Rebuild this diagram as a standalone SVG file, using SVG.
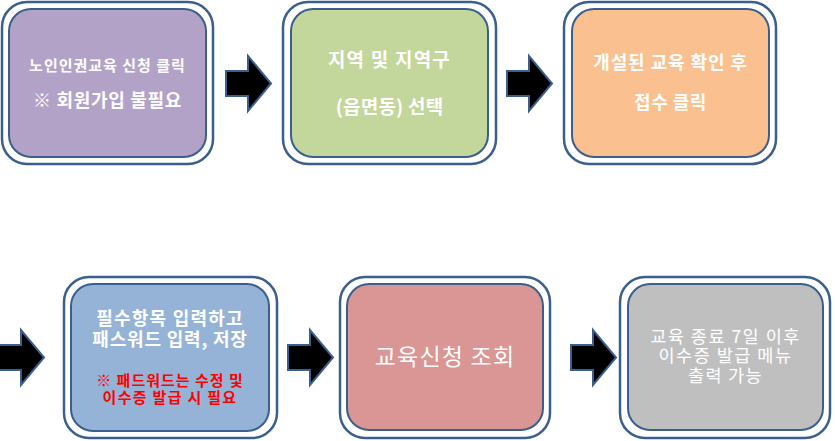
<svg xmlns="http://www.w3.org/2000/svg" xmlns:xlink="http://www.w3.org/1999/xlink" width="835" height="441" viewBox="0 0 835 441">
<style>
.outer{fill:#fff;stroke:#3A5F8C;stroke-width:2.5}
.inner{stroke:#3A5F8C;stroke-width:2}
.t{font-family:"Noto Sans CJK KR","Noto Sans",sans-serif;fill:#fff;text-anchor:middle}
.b{font-weight:bold}
.r{fill:#FF0000;font-weight:bold}
.arrow{fill:#000;stroke:#3A5F8C;stroke-width:2;stroke-linejoin:miter}
</style>
<defs>
<path id="arr" d="M0,15 H22 V0 L45,27.5 L22,55 V40 H0 Z"/>
</defs>
<rect width="835" height="441" fill="#fff"/>
<g id="connectors">
<use xlink:href="#arr" class="arrow" transform="translate(226,56)"/>
<use xlink:href="#arr" class="arrow" transform="translate(507,56)"/>
<use xlink:href="#arr" class="arrow" transform="translate(-1,330)"/>
<use xlink:href="#arr" class="arrow" transform="translate(288,330)"/>
<use xlink:href="#arr" class="arrow" transform="translate(571,330)"/>
</g>
<g id="node1">
<rect class="outer" x="2" y="2" width="211" height="162" rx="25"/>
<rect class="inner" x="9" y="9" width="197" height="148" rx="22" fill="#B3A2C7"/>
<text class="t b" x="107.5" y="70.5" font-size="15" letter-spacing="1">노인인권교육 신청 클릭</text>
<text class="t b" x="107.5" y="106.5" font-size="18" letter-spacing="0.7">※ 회원가입 불필요</text>
</g>
<g id="node2">
<rect class="outer" x="283" y="2" width="213" height="162" rx="25"/>
<rect class="inner" x="291" y="9" width="197" height="148" rx="22" fill="#C3D69B"/>
<text class="t b" x="389.5" y="67" font-size="19" letter-spacing="1.2">지역 및 지역구</text>
<text class="t b" x="389.5" y="114" font-size="19" letter-spacing="0.2">(읍면동) 선택</text>
</g>
<g id="node3">
<rect class="outer" x="564" y="2" width="212" height="162" rx="25"/>
<rect class="inner" x="572" y="9" width="197" height="148" rx="22" fill="#FAC090"/>
<text class="t b" x="670.5" y="68.5" font-size="18" letter-spacing="0.9">개설된 교육 확인 후</text>
<text class="t b" x="670.5" y="108.5" font-size="18" letter-spacing="0.5">접수 클릭</text>
</g>
<g id="node4">
<rect class="outer" x="64" y="277" width="213" height="161" rx="25"/>
<rect class="inner" x="71" y="284" width="198" height="147" rx="22" fill="#95B3D7"/>
<text class="t b" x="170" y="324.5" font-size="18" letter-spacing="1.2">필수항목 입력하고</text>
<text class="t b" x="170" y="345.5" font-size="18" letter-spacing="0.8">패스워드 입력, 저장</text>
<text class="t r" x="170" y="385.5" font-size="15" letter-spacing="1">※ 패드워드는 수정 및</text>
<text class="t r" x="170" y="402.5" font-size="15" letter-spacing="1.3">이수증 발급 시 필요</text>
</g>
<g id="node5">
<rect class="outer" x="340" y="277" width="210" height="161" rx="25"/>
<rect class="inner" x="347" y="284" width="196" height="146" rx="22" fill="#D99694"/>
<text class="t" x="445" y="365" font-size="23" letter-spacing="1.2">교육신청 조회</text>
</g>
<g id="node6">
<rect class="outer" x="620" y="277" width="210" height="161" rx="25"/>
<rect class="inner" x="628" y="284" width="195" height="146" rx="22" fill="#BFBFBF"/>
<text class="t" x="725.5" y="343" font-size="17.5" letter-spacing="1.5">교육 종료 7일 이후</text>
<text class="t" x="725.5" y="362" font-size="17.5" letter-spacing="1.5">이수증 발급 메뉴</text>
<text class="t" x="725.5" y="382" font-size="17.5" letter-spacing="1.3">출력 가능</text>
</g>
</svg>
